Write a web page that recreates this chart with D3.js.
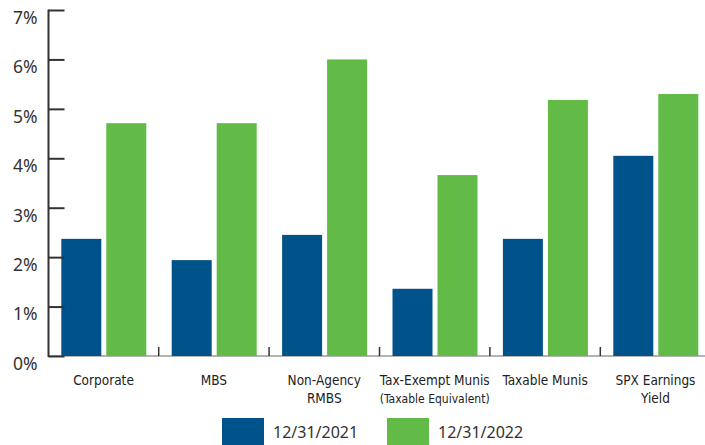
<!DOCTYPE html>
<html>
<head>
<meta charset="utf-8">
<script src="https://cdn.jsdelivr.net/npm/d3@7"></script>
<style>
  html, body { margin: 0; padding: 0; background: #fff; }
  svg { display: block; }
</style>
</head>
<body>
<svg id="chart" width="705" height="445"></svg>
<script>
// Yield categories and values (%)
const categories = [
  ["Corporate"],
  ["MBS"],
  ["Non-Agency", "RMBS"],
  ["Tax-Exempt Munis", "(Taxable Equivalent)"],
  ["Taxable Munis"],
  ["SPX Earnings", "Yield"]
];
const seriesNames = ["12/31/2021", "12/31/2022"];
const yields2021 = [2.37, 1.94, 2.45, 1.36, 2.37, 4.05];
const yields2022 = [4.71, 4.71, 6.00, 3.66, 5.18, 5.30];
const yTicks = [0, 1, 2, 3, 4, 5, 6, 7];
const colors = ["#00538a", "#62bb46"];

const svg = d3.select("#chart");
const axisFont = "'Noto Sans', 'DejaVu Sans', sans-serif";
const catFont = "'DejaVu Sans Condensed', 'Liberation Sans Narrow', sans-serif";

const x0 = d3.scaleBand().domain(d3.range(categories.length)).range([48.3, 710.7]).padding(0);
const y = d3.scaleLinear().domain([0, 7]).range([356, 10]);

const barW = 40;
const offsets = [13, 58];

// x baseline (light grey) and group separators
svg.append("line")
  .attr("x1", 48).attr("x2", 705)
  .attr("y1", y(0)).attr("y2", y(0))
  .attr("stroke", "#9a9a9a").attr("stroke-width", 1.5);

d3.range(1, categories.length).forEach(i => {
  const xx = x0(i);
  svg.append("line")
    .attr("x1", xx).attr("x2", xx)
    .attr("y1", y(0) - 9).attr("y2", y(0))
    .attr("stroke", "#333").attr("stroke-width", 1.5);
});

// bars
const series = [yields2021, yields2022];
series.forEach((vals, s) => {
  svg.append("g").selectAll("rect")
    .data(vals)
    .join("rect")
    .attr("x", (d, i) => x0(i) + offsets[s])
    .attr("width", barW)
    .attr("y", d => y(d))
    .attr("height", d => y(0) - y(d))
    .attr("fill", colors[s]);
});

// y axis
const yAxis = d3.axisRight(y)
  .tickValues(yTicks)
  .tickSize(16)
  .tickFormat(d => d + "%");
const yg = svg.append("g").attr("transform", "translate(48.5,0)").call(yAxis);
yg.select(".domain").attr("stroke", "#333").attr("stroke-width", 2)
  .attr("d", `M0,${y(7) - 0.5}V${y(0) + 1}`);
yg.selectAll(".tick line").attr("stroke", "#333").attr("stroke-width", 2);
yg.selectAll(".tick text")
  .attr("x", -11).attr("y", 7).attr("dy", "0.36em")
  .attr("text-anchor", "end")
  .attr("fill", "#333")
  .style("font-family", axisFont)
  .style("font-size", "17.5px");

// category labels
const lab = svg.append("g");
categories.forEach((lines, i) => {
  const cx = x0(i) + 55.2;
  lines.forEach((t, k) => {
    lab.append("text")
      .attr("x", cx)
      .attr("y", 385 + k * 17.5)
      .attr("text-anchor", "middle")
      .attr("fill", "#222")
      .style("font-family", catFont)
      .style("font-size", i === 3 && k === 1 ? "12px" : "13.5px")
      .text(t);
  });
});

// legend
const legend = svg.append("g");
const legendX = [222, 387];
seriesNames.forEach((name, s) => {
  legend.append("rect")
    .attr("x", legendX[s]).attr("y", 418)
    .attr("width", 42).attr("height", 27)
    .attr("fill", colors[s]);
  legend.append("text")
    .attr("x", legendX[s] + 51).attr("y", 438)
    .attr("fill", "#333")
    .style("font-family", axisFont)
    .style("font-size", "16px")
    .text(name);
});
</script>
</body>
</html>
